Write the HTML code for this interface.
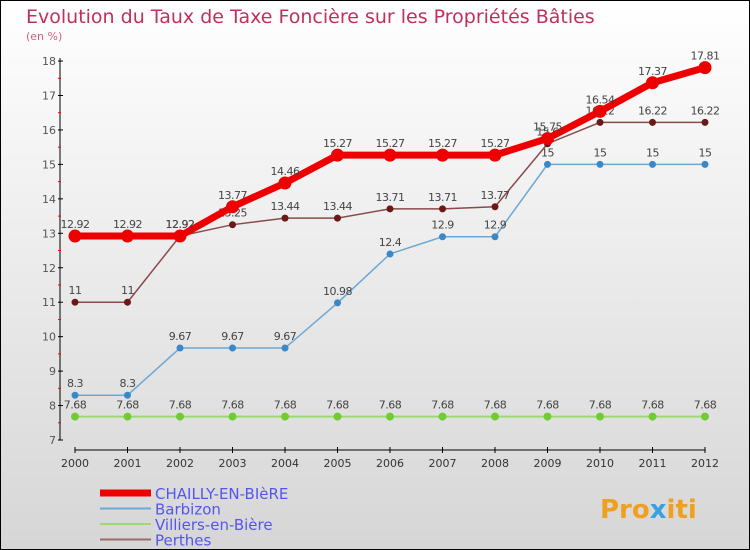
<!DOCTYPE html>
<html><head><meta charset="utf-8"><style>
body{margin:0}
#c{width:750px;height:550px;position:relative;box-sizing:border-box;border:1px solid #000;background:linear-gradient(#fff,#d6d6d6);font-family:"DejaVu Sans","Liberation Sans",sans-serif;overflow:hidden}
</style></head><body>
<div id="c">
<svg id="s" width="750" height="550" style="position:absolute;left:-1px;top:-1px">
<text x="26" y="23" font-size="19" fill="#c0305c">Evolution du Taux de Taxe Foncière sur les Propriétés Bâties</text>
<text x="26" y="40" font-size="11" fill="#d06080">(en %)</text>
<g id="g"></g>
<text x="600" y="518" font-size="26" font-weight="bold" fill="#f0a020">Pro<tspan fill="#3aa0e0">x</tspan>iti</text>
</svg>
</div>
<script>
const years=["2000","2001","2002","2003","2004","2005","2006","2007","2008","2009","2010","2011","2012"];
const yTicks=[7,8,9,10,11,12,13,14,15,16,17,18];
const chailly=[12.92,12.92,12.92,13.77,14.46,15.27,15.27,15.27,15.27,15.75,16.54,17.37,17.81];
const barbizon=[8.3,8.3,9.67,9.67,9.67,10.98,12.4,12.9,12.9,15,15,15,15];
const villiers=[7.68,7.68,7.68,7.68,7.68,7.68,7.68,7.68,7.68,7.68,7.68,7.68,7.68];
const perthes=[11,11,12.92,13.25,13.44,13.44,13.71,13.71,13.77,15.6,16.22,16.22,16.22];
const NS="http://www.w3.org/2000/svg";
const g=document.getElementById('g');
const X=i=>75+i*52.5, Y=v=>440-(v-7)*34.45;
function el(t,a,p){const e=document.createElementNS(NS,t);for(const k in a)e.setAttribute(k,a[k]);(p||g).appendChild(e);return e;}
let e=el('line',{x1:60,y1:58,x2:60,y2:440,stroke:'#000'});


e=el('line',{x1:75,y1:450,x2:705,y2:450,stroke:'#000'});


yTicks.forEach(v=>{
 el('line',{x1:58,x2:63,y1:Y(v),y2:Y(v),stroke:'#000'});
 if(v<18) el('line',{x1:58,x2:61,y1:Y(v+0.5),y2:Y(v+0.5),stroke:'#f00'});
 const t=el('text',{x:56,y:Y(v)+4,'font-size':11,fill:'#555','text-anchor':'end'});t.textContent=v;
 
 
});
years.forEach((y,i)=>{
 el('line',{x1:X(i),x2:X(i),y1:447,y2:453,stroke:'#000'});
 const t=el('text',{x:X(i),y:467,'font-size':11,fill:'#333','text-anchor':'middle'});t.textContent=y;
 
 
});
function series(d,col,w,r,dot,name){
 const p=el('polyline',{points:d.map((v,i)=>X(i)+','+Y(v)).join(' '),fill:'none',stroke:col,'stroke-width':w});
 
 
 d.forEach((v,i)=>{
  const c=el('circle',{cx:X(i),cy:Y(v),r:r,fill:dot});
  
  
  const t=el('text',{x:X(i),y:Y(v)-8,'font-size':11,fill:'#444','text-anchor':'middle','letter-spacing':'-0.5'});t.textContent=v;
  
  
 });
}
series(villiers,'#9ed870',2,4,'#70cc30','villiers');
series(barbizon,'#6ca8d4',1.5,3.5,'#3a88c8','barbizon');
series(perthes,'#8a4a4a',1.5,3.5,'#6a1818','perthes');
series(chailly,'#ee0000',7,6.5,'#ee0000','chailly');
const leg=[['CHAILLY-EN-BIèRE','#ee0000',7],['Barbizon','#6ca8d4',2],['Villiers-en-Bière','#9ed870',2],['Perthes','#9a6a6a',2]];
leg.forEach((l,i)=>{
 const yy=493+i*15.5;
 el('line',{x1:100,x2:151,y1:yy,y2:yy,stroke:l[1],'stroke-width':l[2]});
 const t=el('text',{x:155,y:yy+6,'font-size':15,fill:'#5555ee'});t.textContent=l[0];
 
 
});
</script>
</body></html>
